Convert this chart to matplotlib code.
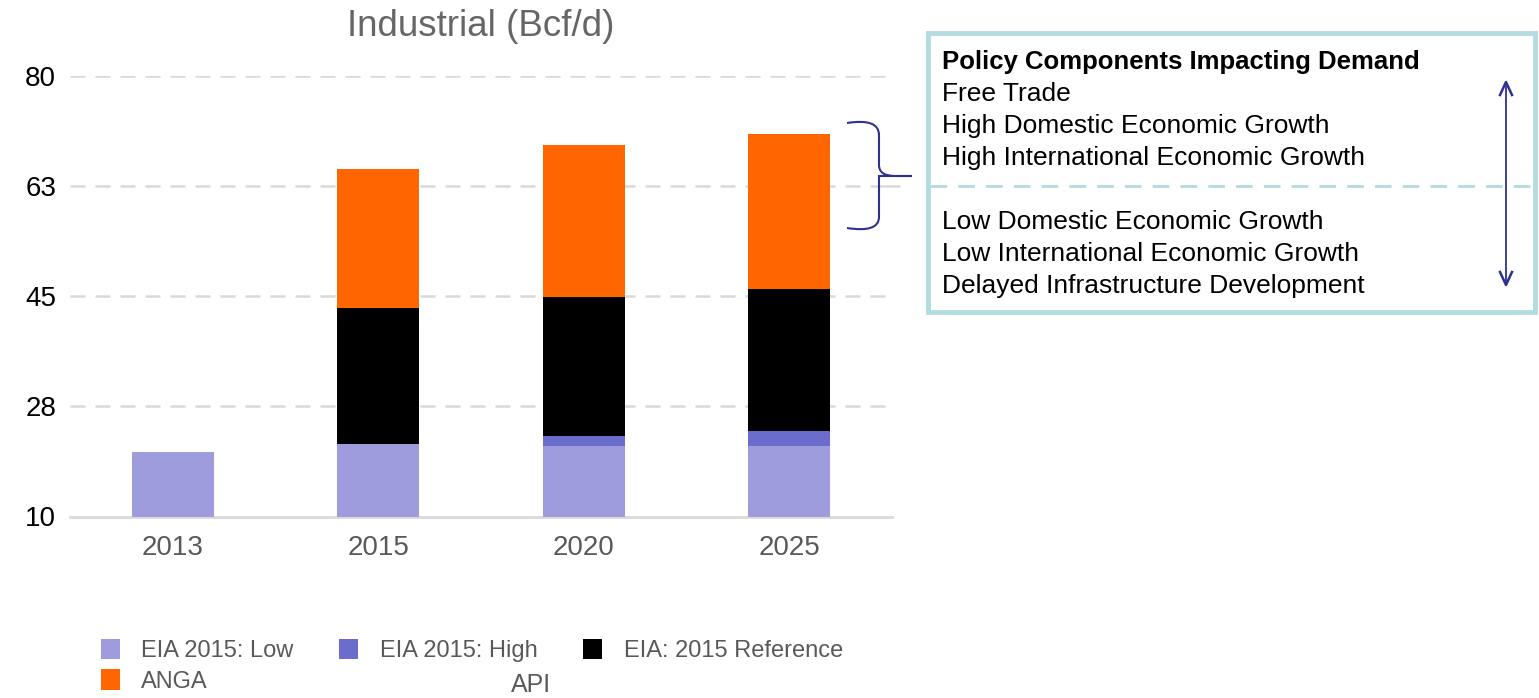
import numpy as np
import matplotlib.pyplot as plt
from matplotlib.path import Path
from matplotlib.patches import PathPatch, Rectangle

plt.rcParams['font.family'] = ['Liberation Sans', 'DejaVu Sans']

# data (top level of each series, Bcf/d)
years = ['2013', '2015', '2020', '2025']
eia_low = [20.3, 21.5, 21.2, 21.2]
eia_high = [0, 21.5, 22.8, 23.6]
eia_ref = [0, 43.1, 44.9, 46.2]
anga = [0, 65.2, 69.0, 70.8]
ytick_vals = [10, 27.5, 45, 62.5, 80]
ytick_labels = ['10', '28', '45', '63', '80']

box_title = 'Policy Components Impacting Demand'
box_high = ['Free Trade', 'High Domestic Economic Growth', 'High International Economic Growth']
box_low = ['Low Domestic Economic Growth', 'Low International Economic Growth',
           'Delayed Infrastructure Development']

c_low = '#9e9cdc'
c_high = '#6c6ccc'
c_ref = '#000000'
c_anga = '#ff6600'
navy = '#2e3192'
teal = '#b2dcdf'
grey = '#595959'

W, H = 1539, 698
fig = plt.figure(figsize=(W / 100, H / 100), dpi=100)


def fx(x):
    return x / W


def fy(y):
    return 1 - y / H


ax = fig.add_axes([fx(70), fy(516.5), fx(892) - fx(70), fy(76) - fy(516.5)])
x = np.arange(len(years))
w = 0.4
# overlapping bars, tallest drawn first
b_anga = ax.bar(x, anga, w, color=c_anga, zorder=2)
b_ref = ax.bar(x, eia_ref, w, color=c_ref, zorder=3)
b_high = ax.bar(x, eia_high, w, color=c_high, zorder=4)
b_low = ax.bar(x, eia_low, w, color=c_low, zorder=5)

ax.set_xlim(-0.5, len(years) - 0.5)
ax.set_ylim(10, 80)
ax.set_xticks(x)
ax.set_xticklabels(years, fontsize=20, color=grey)
ax.set_yticks(ytick_vals)
ax.set_yticklabels(ytick_labels, fontsize=20, color='black')
ax.tick_params(length=0)
ax.tick_params(axis='x', pad=13)
ax.tick_params(axis='y', pad=10)
for s in ['top', 'right', 'left']:
    ax.spines[s].set_visible(False)
ax.spines['bottom'].set_color('#d9d9d9')
ax.spines['bottom'].set_linewidth(2)
for v in ytick_vals[1:]:
    ax.axhline(v, color='#d9d9d9', lw=1.8, dashes=(6, 4), zorder=1)

fig.text(fx(481), fy(26), 'Industrial (Bcf/d)', fontsize=26.5, color='#666666',
         ha='center', va='center')

# legend (column-major order -> Low, High, Reference on row 1, ANGA on row 2)
fig.legend([b_low, b_anga, b_high, b_ref],
           ['EIA 2015: Low', 'ANGA', 'EIA 2015: High', 'EIA: 2015 Reference'],
           ncol=3, loc='upper left', bbox_to_anchor=(fx(101), fy(639)),
           frameon=False, fontsize=17, labelcolor=grey, borderpad=0, borderaxespad=0,
           handlelength=0.8, handleheight=0.95, handletextpad=0.9,
           columnspacing=1.95, labelspacing=0.3)
fig.text(fx(531), fy(685), 'API', fontsize=18, color=grey, ha='center', va='center')

# policy box
fig.patches.append(Rectangle((fx(928), fy(312)), fx(1535) - fx(928), fy(33) - fy(312),
                             transform=fig.transFigure, fill=False, edgecolor=teal,
                             linewidth=3.5))
fig.add_artist(plt.Line2D([fx(930), fx(1535)], [fy(186), fy(186)], transform=fig.transFigure,
                          color=teal, lw=2, dashes=(6, 4)))
fig.add_artist(plt.Line2D([fx(885), fx(905)], [fy(186), fy(186)], transform=fig.transFigure,
                          color='#d9d9d9', lw=1.8, dashes=(6, 4)))
fig.text(fx(942), fy(62), box_title, fontsize=18.5, fontweight='bold', color='black',
         va='center')
for i, t in enumerate(box_high):
    fig.text(fx(942), fy(94 + 32 * i), t, fontsize=19, color='black', va='center')
for i, t in enumerate(box_low):
    fig.text(fx(942), fy(222 + 32 * i), t, fontsize=19, color='black', va='center')

# double arrow
fig.add_artist(plt.Line2D([fx(1506), fx(1506)], [fy(84), fy(283)], transform=fig.transFigure,
                          color=navy, lw=1.3))
for ytip, d in [(82, 1), (285, -1)]:
    fig.add_artist(plt.Line2D([fx(1500), fx(1506), fx(1512)],
                              [fy(ytip + 13 * d), fy(ytip), fy(ytip + 13 * d)],
                              transform=fig.transFigure, color=navy, lw=1.8))

# curly brace
verts = [(fx(847), fy(123)), (fx(879), fy(118)), (fx(879), fy(135)),
         (fx(879), fy(165)),
         (fx(879), fy(176)), (fx(895), fy(176)), (fx(912), fy(176)),
         (fx(895), fy(176)), (fx(879), fy(176)), (fx(879), fy(187)),
         (fx(879), fy(217)),
         (fx(879), fy(233)), (fx(847), fy(228))]
codes = [Path.MOVETO, Path.CURVE3, Path.CURVE3,
         Path.LINETO,
         Path.CURVE3, Path.CURVE3, Path.LINETO,
         Path.CURVE3, Path.CURVE3, Path.LINETO,
         Path.LINETO,
         Path.CURVE3, Path.CURVE3]
fig.patches.append(PathPatch(Path(verts, codes), transform=fig.transFigure, fill=False,
                             edgecolor=navy, lw=1.5))

fig.savefig('out.png', dpi=100)
